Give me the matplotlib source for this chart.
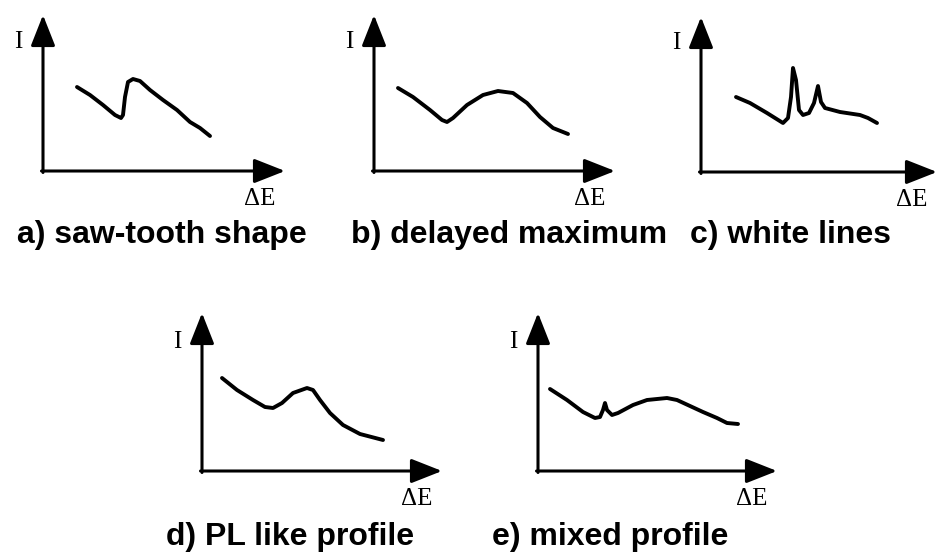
import matplotlib.pyplot as plt

# Schematic EELS edge shapes, curve points in panel units (origin = axis corner)
a_x = [34, 47, 60, 72, 78, 80, 82, 85, 90, 97, 107, 120, 134, 147, 157, 167]
a_y = [84, 76, 66, 56, 53, 56, 74, 89, 92, 90, 81, 71, 61, 49, 43, 35]

b_x = [24, 39, 56, 68, 73, 79, 93, 109, 124, 139, 153, 166, 179, 194]
b_y = [83, 74, 61, 51, 49, 53, 66, 76, 80, 78, 68, 54, 43, 37]

c_x = [35, 49, 66, 82, 87, 90, 92, 95, 98, 102, 108, 113, 117, 120, 124, 139, 159, 167, 176]
c_y = [75, 69, 59, 49, 54, 75, 104, 92, 62, 57, 59, 69, 86, 70, 64, 60, 57, 54, 49]

d_x = [20, 35, 51, 63, 71, 80, 91, 105, 111, 118, 128, 141, 158, 181]
d_y = [93, 81, 71, 64, 63, 68, 78, 83, 81, 71, 58, 46, 37, 31]

e_x = [12, 29, 45, 57, 62, 65, 67, 69, 74, 80, 95, 109, 129, 139, 152, 165, 179, 189, 200]
e_y = [82, 71, 59, 53, 54, 61, 68, 61, 56, 58, 66, 71, 73, 71, 65, 59, 53, 48, 47]

titles = ["a) saw-tooth shape", "b) delayed maximum", "c) white lines",
          "d) PL like profile", "e) mixed profile"]
curves = [(a_x, a_y), (b_x, b_y), (c_x, c_y), (d_x, d_y), (e_x, e_y)]

# panel layout in pixels: origin x, origin y (from top), axis width, axis height
panels = [(43, 171, 242, 156), (374, 171, 241, 156), (701, 172, 236, 155),
          (202, 471, 240, 158), (538, 471, 239, 158)]
# title centre x and baseline y, in pixels
title_pos = [(162, 243), (509, 243), (790, 243), (290, 545), (610, 545)]

W, H = 938, 553
fig = plt.figure(figsize=(W / 100, H / 100), dpi=100)
fig.patch.set_facecolor('white')

arrow = dict(arrowstyle='-|>,head_length=1.9,head_width=0.75', lw=2.2,
             color='black', mutation_scale=10, shrinkA=0, shrinkB=0)
serif = ['Liberation Serif', 'DejaVu Serif']

for (x0, y0, w, h), (xs, ys), title, (tx, ty) in zip(panels, curves, titles, title_pos):
    ax = fig.add_axes([x0 / W, (H - y0) / H, w / W, h / H])
    ax.set_xlim(0, w)
    ax.set_ylim(0, h)
    ax.axis('off')
    ax.annotate('', xy=(w, 0), xytext=(-1.5, 0), arrowprops=arrow, annotation_clip=False)
    ax.annotate('', xy=(0, h), xytext=(0, -1.5), arrowprops=arrow, annotation_clip=False)
    ax.plot(xs, ys, color='black', lw=2.8, solid_capstyle='round',
            solid_joinstyle='round', clip_on=False)
    ax.text(-25, 129, 'I', family=serif, fontsize=18, ha='center', va='center')
    ax.text(w - 25, -28, 'ΔE', family=serif, fontsize=18, ha='center', va='center')
    fig.text(tx / W, 1 - ty / H, title, family=['Liberation Sans', 'DejaVu Sans'],
             fontweight='bold', fontsize=23, ha='center', va='baseline')

fig.savefig('out.png', dpi=100, facecolor='white')
